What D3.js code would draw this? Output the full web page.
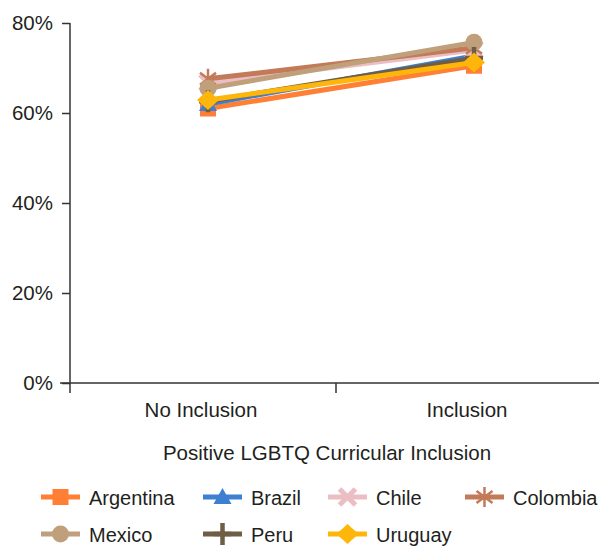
<!DOCTYPE html>
<html>
<head>
<meta charset="utf-8">
<script src="https://cdn.jsdelivr.net/npm/d3@7"></script>
<style>
  body { margin: 0; background: #fff; }
  svg { display: block; font-family: "Liberation Sans", Arial, sans-serif; }
</style>
</head>
<body>
<svg id="chart" width="599" height="546"></svg>
<script>
// ---- data ----
const categories = ["No Inclusion", "Inclusion"];
const countries = ["Argentina", "Brazil", "Chile", "Colombia", "Mexico", "Peru", "Uruguay"];
const argentina = [0.610, 0.705];
const brazil    = [0.620, 0.727];
const chile     = [0.667, 0.740];
const colombia  = [0.676, 0.745];
const mexico    = [0.655, 0.757];
const peru      = [0.626, 0.722];
const uruguay   = [0.629, 0.712];
const yTicks = [0, 0.2, 0.4, 0.6, 0.8];
const xTitle = "Positive LGBTQ Curricular Inclusion";

const seriesValues = [argentina, brazil, chile, colombia, mexico, peru, uruguay];
const colors = ["#FF7F35", "#3F7FD2", "#EBBEC3", "#C27A58", "#BFA07A", "#6F5D45", "#FFB60A"];
const shapes = ["square", "triangle", "xcross", "asterisk", "circle", "plus", "diamond"];

// ---- layout ----
const svg = d3.select("#chart");
const mLeft = 70, mRight = 602, mTop = 23, mBottom = 383;
const x = d3.scaleBand().domain(categories).range([mLeft, mRight]);
const markOffset = 5;
const xm = c => x(c) + x.bandwidth() / 2 + markOffset;
const y = d3.scaleLinear().domain([0, 0.8]).range([mBottom, mTop]);

const textColor = "#231f20";
const axisColor = "#333";

// y axis
const yAxis = svg.append("g").attr("transform", `translate(${mLeft},0)`)
  .call(d3.axisLeft(y).tickValues(yTicks).tickFormat(d3.format(".0%")).tickSize(8).tickPadding(9));
yAxis.select(".domain").remove();
yAxis.append("line").attr("x1", 0).attr("x2", 0).attr("y1", mTop).attr("y2", mBottom + 10)
  .attr("stroke", axisColor).attr("stroke-width", 1.5);
yAxis.selectAll(".tick line").attr("stroke", axisColor).attr("stroke-width", 1.5);
yAxis.selectAll(".tick text").attr("font-size", 20.5).attr("fill", textColor)
  .attr("font-family", "Liberation Sans, Arial, sans-serif");

// x axis
const xAxis = svg.append("g").attr("transform", `translate(0,${mBottom})`);
xAxis.append("line").attr("x1", mLeft - 10).attr("x2", 599).attr("y1", 0).attr("y2", 0)
  .attr("stroke", axisColor).attr("stroke-width", 1.5);
const bounds = [mLeft, mLeft + x.bandwidth(), mRight];
xAxis.selectAll(".xt").data(bounds.slice(1)).enter().append("line")
  .attr("x1", d => d).attr("x2", d => d).attr("y1", 0).attr("y2", 10)
  .attr("stroke", axisColor).attr("stroke-width", 1.5);
xAxis.selectAll(".xl").data(categories).enter().append("text")
  .attr("x", d => x(d) + x.bandwidth() / 2 - 2).attr("y", 34)
  .attr("text-anchor", "middle").attr("font-size", 20.5).attr("fill", textColor)
  .text(d => d);
svg.append("text").attr("x", (mLeft + mRight) / 2 - 9).attr("y", 460)
  .attr("text-anchor", "middle").attr("font-size", 20.5).attr("fill", textColor)
  .text(xTitle);

// marker drawing
function drawMarker(g, shape, color, cx, cy) {
  const m = g.append("g").attr("transform", `translate(${cx},${cy})`);
  switch (shape) {
    case "square":
      m.append("rect").attr("x", -8).attr("y", -8).attr("width", 16).attr("height", 16).attr("fill", color); break;
    case "triangle":
      m.append("path").attr("d", "M0,-9L9,7L-9,7Z").attr("fill", color); break;
    case "xcross":
      m.append("path").attr("d", "M-8,-8L8,8M-8,8L8,-8").attr("stroke", color).attr("stroke-width", 5); break;
    case "asterisk":
      m.append("path").attr("d", "M0,-10L0,10M-8,-6L8,6M-8,6L8,-6").attr("stroke", color).attr("stroke-width", 2.5); break;
    case "circle":
      m.append("circle").attr("r", 8.5).attr("fill", color); break;
    case "plus":
      m.append("path").attr("d", "M0,-11L0,11M-9,0L9,0").attr("stroke", color).attr("stroke-width", 4.5); break;
    case "diamond":
      m.append("path").attr("d", "M0,-10L11,0L0,10L-11,0Z").attr("fill", color); break;
  }
}

// series
const line = d3.line().x((d, i) => xm(categories[i])).y(d => y(d));
const plot = svg.append("g");
countries.forEach((c, k) => {
  const g = plot.append("g");
  g.append("path").datum(seriesValues[k]).attr("d", line)
    .attr("fill", "none").attr("stroke", colors[k]).attr("stroke-width", 5);
  seriesValues[k].forEach((v, i) => drawMarker(g, shapes[k], colors[k], xm(categories[i]), y(v)));
});

// legend
const legendCols = [41, 203, 328, 465];
const legendRows = [497, 534];
const perRow = 4;
countries.forEach((c, k) => {
  const col = k % perRow, row = Math.floor(k / perRow);
  const lx = legendCols[col], ly = legendRows[row];
  const g = svg.append("g");
  g.append("line").attr("x1", lx).attr("x2", lx + 39).attr("y1", ly).attr("y2", ly)
    .attr("stroke", colors[k]).attr("stroke-width", 5);
  drawMarker(g, shapes[k], colors[k], lx + 19.5, ly);
  g.append("text").attr("x", lx + 48).attr("y", ly + 7.5)
    .attr("font-size", 20).attr("fill", textColor).text(c);
});
</script>
</body>
</html>
